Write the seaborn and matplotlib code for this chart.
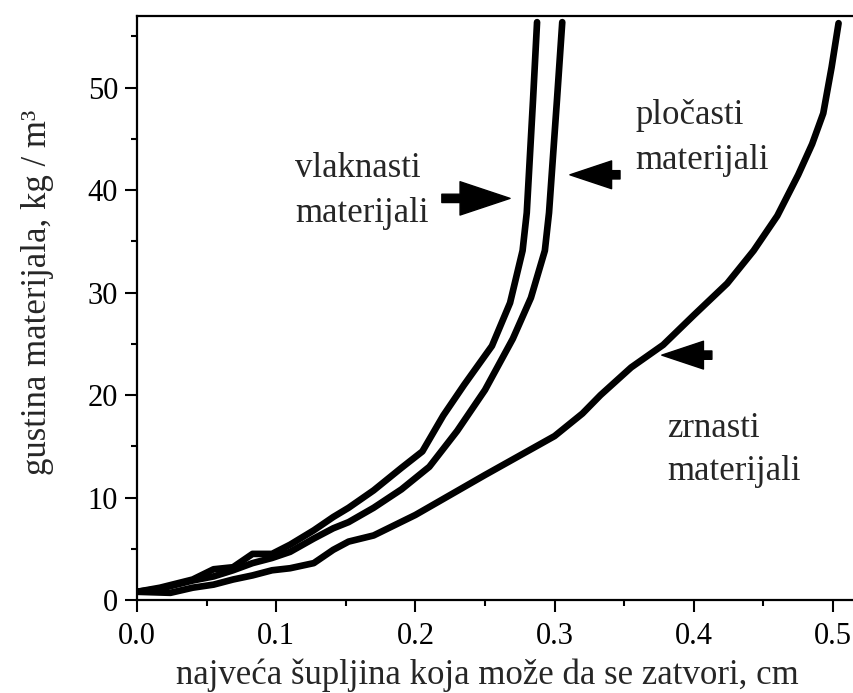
import numpy as np
import pandas as pd
import matplotlib
matplotlib.use("Agg")
import matplotlib.pyplot as plt
import seaborn as sns

# ---- data ----
vlaknasti_x = [0.0, 0.0165, 0.04, 0.055, 0.069, 0.083, 0.097, 0.110, 0.127, 0.141, 0.152,
               0.17, 0.19, 0.205, 0.22, 0.235, 0.255, 0.268, 0.277, 0.280, 0.2845, 0.2874]
vlaknasti_y = [0.8, 1.2, 2.0, 3.0, 3.2, 4.5, 4.5, 5.4, 6.8, 8.1, 9.0,
               10.7, 12.9, 14.5, 18.0, 21.0, 24.8, 29.0, 34.1, 37.8, 48.8, 56.4]

plocasti_x = [0.0, 0.0165, 0.04, 0.055, 0.069, 0.083, 0.097, 0.110, 0.127, 0.141, 0.152,
              0.17, 0.19, 0.21, 0.23, 0.25, 0.27, 0.283, 0.293, 0.296, 0.3017, 0.3055]
plocasti_y = [0.8, 1.1, 1.9, 2.3, 2.9, 3.6, 4.1, 4.7, 6.0, 7.0, 7.6,
              9.0, 10.8, 13.0, 16.5, 20.5, 25.5, 29.5, 34.1, 37.8, 48.8, 56.4]

zrnasti_x = [0.0, 0.024, 0.04, 0.055, 0.069, 0.083, 0.097, 0.110, 0.127, 0.141, 0.152,
             0.17, 0.2, 0.25, 0.3, 0.32, 0.333, 0.355, 0.378, 0.40, 0.424, 0.443,
             0.46, 0.475, 0.485, 0.493, 0.499, 0.504]
zrnasti_y = [0.8, 0.7, 1.2, 1.5, 2.0, 2.4, 2.9, 3.1, 3.6, 4.9, 5.7,
             6.3, 8.3, 12.2, 16.0, 18.2, 20.0, 22.7, 24.9, 27.8, 30.9, 34.1,
             37.5, 41.5, 44.5, 47.5, 52.0, 56.3]

x_ticks = [0.0, 0.1, 0.2, 0.3, 0.4, 0.5]
x_tick_labels = ["0.0", "0.1", "0.2", "0.3", "0.4", "0.5"]
y_ticks = [0, 10, 20, 30, 40, 50]
y_tick_labels = ["0", "10", "20", "30", "40", "50"]

x_label = "najveća šupljina koja može da se zatvori, cm"
y_label = "gustina materijala, kg / m³"

labels = [("vlaknasti", "materijali"), ("pločasti", "materijali"), ("zrnasti", "materijali")]

# ---- style ----
sns.set_style("ticks")
plt.rcParams["font.family"] = ["Liberation Serif", "DejaVu Serif"]

W, H = 854, 693
fig = plt.figure(figsize=(W / 100, H / 100), dpi=100, facecolor="white")
ax = fig.add_axes([137 / W, 93 / H, (W - 137) / W, (600 - 16) / H])
ax.set_facecolor("white")

for xs, ys in [(zrnasti_x, zrnasti_y), (plocasti_x, plocasti_y), (vlaknasti_x, vlaknasti_y)]:
    df = pd.DataFrame({"x": xs, "y": ys})
    sns.lineplot(data=df, x="x", y="y", ax=ax, color="black", linewidth=4.8,
                 estimator=None, sort=False, solid_capstyle="round", solid_joinstyle="round")

ax.set_xlim(0, (W - 137) / 1392)
ax.set_ylim(0, 57)

ax.set_xticks(x_ticks)
ax.set_xticklabels(x_tick_labels)
ax.set_yticks(y_ticks)
ax.set_yticklabels(y_tick_labels)
ax.set_xticks(np.arange(0.05, 0.55, 0.1), minor=True)
ax.set_yticks(np.arange(5, 56, 10), minor=True)

ax.tick_params(which="major", direction="out", length=8.6, width=1.5, labelsize=22,
               colors="black", pad=5)
ax.tick_params(which="minor", direction="out", length=4.3, width=1.5, colors="black")
ax.tick_params(axis="x", which="major", pad=7)

for s in ["left", "bottom", "top"]:
    ax.spines[s].set_visible(True)
    ax.spines[s].set_linewidth(1.6)
    ax.spines[s].set_color("black")
ax.spines["right"].set_visible(False)

ax.set_xlabel(x_label, fontsize=25, va="baseline")
ax.xaxis.set_label_coords((487 - 137) / 717, (9 - 93) / 584)
ax.set_ylabel(y_label, fontsize=25, va="center")
ax.yaxis.set_label_coords((38 - 137) / 717, (401 - 93) / 584)

# text annotations
txt_pos = [(0.1135, 41.3, 36.9), (0.3578, 46.5, 42.1), (0.3807, 15.9, 11.7)]
for (l1, l2), (tx, y1, y2) in zip(labels, txt_pos):
    ax.text(tx, y1, l1, fontsize=25, ha="left", va="baseline")
    ax.text(tx, y2, l2, fontsize=25, ha="left", va="baseline")

# arrows (tail -> tip)
arrows = [((0.219, 39.2), (0.268, 39.2), 1.8, 1.2),
          ((0.347, 41.5), (0.311, 41.5), 1.5, 1.0),
          ((0.413, 23.9), (0.377, 23.9), 1.5, 1.0)]
for tail, tip, hl, hw in arrows:
    ax.annotate("", xy=tip, xytext=tail,
                arrowprops=dict(arrowstyle=f"simple,head_length={hl},head_width={hw},tail_width=0.3",
                                fc="black", ec="black", lw=1, shrinkA=0, shrinkB=0,
                                mutation_scale=20))

fig.savefig("out.png", dpi=100, facecolor="white")
